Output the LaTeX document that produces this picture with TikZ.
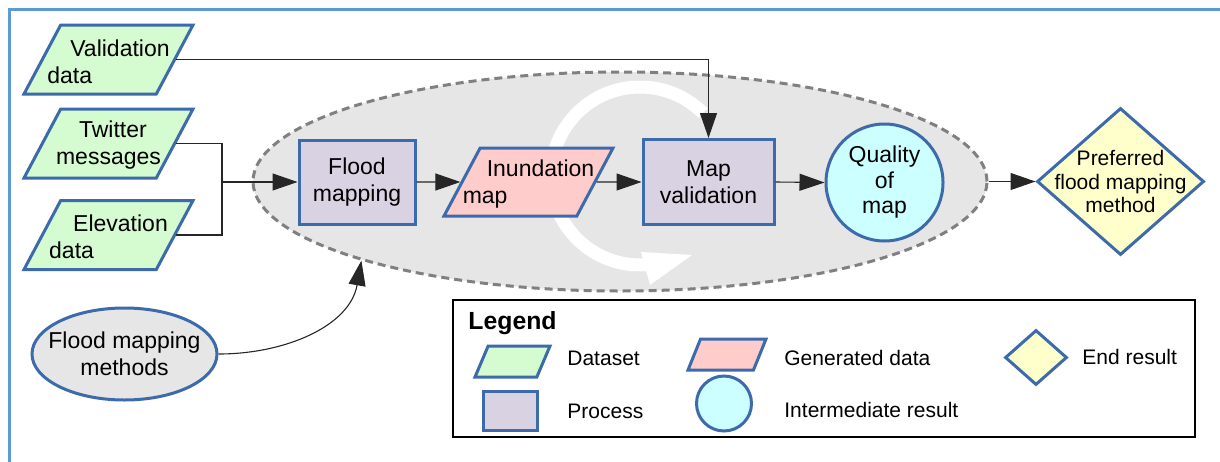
\documentclass[tikz,border=0pt]{standalone}
\usepackage{fontspec}
\setmainfont{Liberation Sans}
\usetikzlibrary{arrows.meta,shapes.geometric}
\definecolor{shapeblue}{HTML}{3C6AAA}
\definecolor{frameblue}{HTML}{5B9BD5}
\definecolor{datagreen}{HTML}{D5FBD0}
\definecolor{genpink}{HTML}{FFCCCC}
\definecolor{proclilac}{HTML}{D9D2E2}
\definecolor{midcyan}{HTML}{CCFFFF}
\definecolor{endyellow}{HTML}{FFFFCC}
\definecolor{loopgrey}{HTML}{E6E6E6}
\tikzset{flowtip/.tip={Triangle[length=12.5pt,width=8.5pt]}}
\newcommand{\FlowArrowType}{flowtip}
\newcommand{\MainFont}{\fontsize{11.5}{13.5}\selectfont}
\newcommand{\KeyFont}{\fontsize{10.5}{12.5}\selectfont}

\begin{document}
\begin{tikzpicture}[x=0.5pt,y=-0.5pt,>=\FlowArrowType,
	textin/.style={label={[align=center, font=\MainFont]center:#1}},
	lefttextin/.style={label={[align=left, font=\MainFont, yshift=-1pt]center:#1}},
	dataset/.style={trapezium, trapezium left angle=62, trapezium right angle=118,
		trapezium stretches body, draw=shapeblue, line width=1.5pt, fill=datagreen,
		inner sep=0pt, text height=34.5pt, text depth=0pt,
		minimum width=84.5pt, minimum height=34.5pt},
	gendata/.style={dataset, fill=genpink},
	process/.style={rectangle, draw=shapeblue, line width=1.5pt, fill=proclilac,
		inner sep=0pt, align=center, font=\MainFont},
	midresult/.style={circle, draw=shapeblue, line width=1.5pt, fill=midcyan,
		inner sep=0pt, align=center, font=\fontsize{11.5}{12.75}\selectfont},
	endresult/.style={diamond, draw=shapeblue, line width=1.5pt, fill=endyellow,
		inner sep=0pt},
	flow/.style={->, line width=0.55pt, black!85},
	keytext/.style={anchor=west, font=\KeyFont, inner sep=0pt}]

	\useasboundingbox (0,0) rectangle (1220,461);
	\draw[frameblue, line width=1.5pt] (1225,9) -| (9,466);

	% the loop of mapping and validation
	\node[ellipse, draw=black!50, fill=loopgrey, line width=1.5pt,
		dash pattern=on 4pt off 2.5pt, inner sep=0pt,
		minimum width=367pt, minimum height=109.5pt] (loop) at (620,181.5) {};
	\draw[white, line width=6.5pt] (640,176) ++(45:44.5pt)
		arc[start angle=45, end angle=274, radius=44.5pt];
	\fill[white] (641,252) -- (692,255) -- (650,285) -- cycle;

	\node[dataset, lefttextin={\hspace*{11.5pt}Validation\\data}] (valid) at (108.5,59.5) {};
	\node[dataset, lefttextin={\hspace*{11.5pt}Twitter\\messages}] (twitter) at (108.5,143.5) {};
	\node[dataset, lefttextin={\hspace*{12pt}Elevation\\data}] (elev) at (108.5,235) {};
	\node[ellipse, draw=shapeblue, fill=loopgrey, line width=1.5pt, inner sep=0pt,
		minimum width=92.5pt, minimum height=46pt, textin={Flood mapping\\methods}]
		(methods) at (124.5,354) {};

	\node[process, minimum width=58pt, minimum height=42pt] (flood) at (357,182)
		{Flood\\mapping};
	\node[gendata, text height=34pt, minimum height=34pt,
		lefttextin={\hspace*{12pt}Inundation\\map}] (inund) at (528.5,182) {};
	\node[process, minimum width=65.5pt, minimum height=42.5pt] (mapval) at (708.5,182)
		{Map\\validation};
	\node[midresult, minimum size=58.5pt] (quality) at (884.5,182.5) {Quality\\of\\map};
	\node[endresult, minimum width=83.5pt, minimum height=73.5pt,
		label={[align=center, font=\fontsize{10.5}{11.75}\selectfont]center:Preferred\\flood mapping\\method}]
		(result) at (1120.5,181.5) {};

	\coordinate (join) at (222,182);
	\draw[line width=0.55pt, black!85] (twitter.east) -| (join);
	\draw[line width=0.55pt, black!85] (elev.east) -| (join);
	\draw[flow] (join) -- (flood.west);
	\draw[flow] (valid.east) -| (mapval.north);
	\draw[flow] (flood.east) -- (inund.west);
	\draw[flow] (inund.east) -- (mapval.west);
	\draw[flow] (mapval.east) -- (quality.west);
	\draw[flow] (loop.east) -- (result.west);
	\draw[flow] (methods.east) to[out=0, in=-100] (loop.197);

	% legend
	\node[draw=black, line width=0.9pt, inner sep=0pt,
		minimum width=371pt, minimum height=68.5pt] (legendbox) at (824,368.5) {};
	\node[anchor=west, inner sep=0pt, font=\bfseries\fontsize{12.4}{14}\selectfont]
		(legendtitle) at (468,323) {Legend};
	\node[dataset, minimum width=37.5pt, minimum height=15.5pt, text height=15.5pt,
		trapezium left angle=67, trapezium right angle=113] (keydata) at (512.5,361.5) {};
	\node[keytext] (keydatatext) at (567,358) {Dataset};
	\node[process, minimum width=27pt, minimum height=19.5pt] (keyproc) at (510,410.5) {};
	\node[keytext] (keyproctext) at (567,411) {Process};
	\node[gendata, minimum width=39pt, minimum height=15.5pt, text height=15.5pt,
		trapezium left angle=68, trapezium right angle=112] (keygen) at (727,354.5) {};
	\node[keytext] (keygentext) at (784,358) {Generated data};
	\node[midresult, minimum size=27.5pt] (keymid) at (724,403.5) {};
	\node[keytext] (keymidtext) at (784,410) {Intermediate result};
	\node[endresult, minimum width=31pt, minimum height=27.5pt] (keyend) at (1036,357.5) {};
	\node[keytext] (keyendtext) at (1082,357) {End result};
\end{tikzpicture}
\end{document}
